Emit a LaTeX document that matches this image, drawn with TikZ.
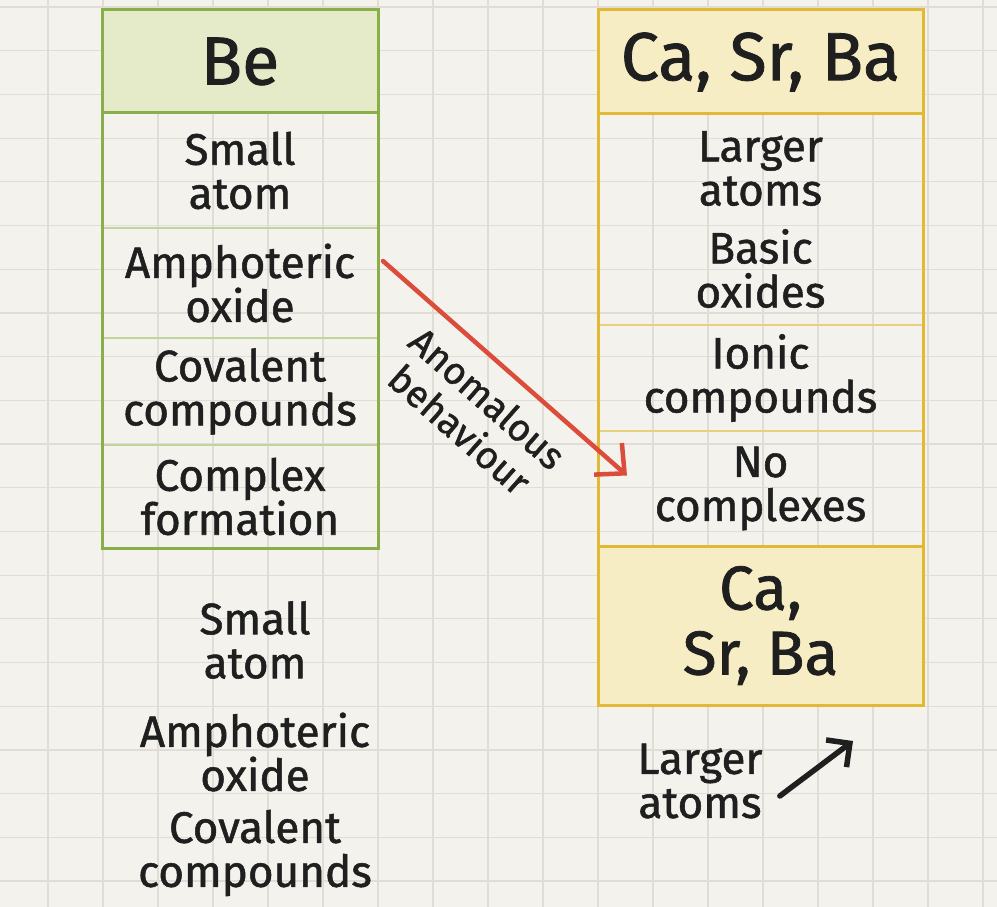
\documentclass[tikz,border=0pt]{standalone}
\usepackage{fontspec}
\setmainfont{Fira Sans}[FakeBold=1.2]
\usepackage{xcolor}
\usetikzlibrary{arrows.meta,positioning,fit}

\definecolor{carta}{HTML}{F4F2ED}
\definecolor{griglia}{HTML}{E0DDD7}
\definecolor{inchiostro}{HTML}{1F1F1F}
\definecolor{verde}{HTML}{8AAE4A}
\definecolor{verdechiaro}{HTML}{E5EBC8}
\definecolor{verdetenue}{HTML}{C2D49E}
\definecolor{giallo}{HTML}{E2B934}
\definecolor{giallochiaro}{HTML}{F7EDC4}
\definecolor{giallotenue}{HTML}{E9D07C}
\definecolor{rosso}{HTML}{DC4C3A}

\begin{document}
\begin{tikzpicture}[x=1pt, y=-1pt, thick, text=inchiostro]
    % Stili
    \tikzstyle{cella}=[rectangle, inner sep=0pt, outer sep=0pt, align=center, font=\fontsize{44}{44}\selectfont]
    \tikzstyle{cellaverde}=[cella, minimum width=276pt]
    \tikzstyle{cellagialla}=[cella, minimum width=325pt]
    \tikzstyle{testata}=[font=\fontsize{68}{70}\selectfont]
    \tikzstyle{bordoverde}=[draw=verde, line width=3pt]
    \tikzstyle{bordogiallo}=[draw=giallo, line width=3pt]
    \tikzstyle{divverde}=[draw=verdetenue, line width=1.6pt]
    \tikzstyle{divgiallo}=[draw=giallotenue, line width=1.6pt]
    \tikzstyle{testo}=[align=center, inner sep=0pt, font=\fontsize{44}{44}\selectfont]
    \tikzstyle{frecciarossa}=[-{Straight Barb[length=22pt, width=42pt]}, draw=rosso, line width=4.5pt, line cap=round, line join=round]
    \tikzstyle{freccianera}=[-{Straight Barb[length=17pt, width=34pt]}, draw=inchiostro, line width=5.5pt, line cap=round, line join=round]

    % Foglio a quadretti
    \fill[carta] (0,0) rectangle (997,907);
    \useasboundingbox (0,0) rectangle (997,907);
    \foreach \k in {0,...,20}
        \draw[griglia, line width=1.2pt] (0,{7+43.7*\k}) -- (997,{7+43.7*\k});
    \foreach \k in {0,...,17}
        \draw[griglia, line width=1.2pt] ({48+55*\k},0) -- ({48+55*\k},907);

    % Colonna Be
    \node (behead) [cellaverde, testata, minimum height=103pt, fill=verdechiaro, bordoverde] at (240,61.5) {Be};
    \node (smallcell) [cellaverde, minimum height=115pt, below=0pt of behead] {Small\\atom};
    \node (amphcell) [cellaverde, minimum height=110pt, below=0pt of smallcell] {Amphoteric\\oxide};
    \node (covcell) [cellaverde, minimum height=107pt, below=0pt of amphcell] {Covalent\\compounds};
    \node (complcell) [cellaverde, minimum height=103pt, below=0pt of covcell] {Complex\\formation};
    \foreach \c in {smallcell, amphcell, covcell}
        \draw[divverde] (\c.south west) -- (\c.south east);
    \node (beframe) [fit=(behead)(complcell), inner sep=0pt, bordoverde] {};

    % Colonna Ca, Sr, Ba
    \node (cahead) [cellagialla, testata, minimum height=104pt, fill=giallochiaro, bordogiallo] at (760.5,62) {Ca, Sr, Ba};
    \node (largecell) [cellagialla, minimum height=211pt, below=0pt of cahead] {Larger\\atoms\\[14pt]Basic\\oxides};
    \node (ioniccell) [cellagialla, minimum height=106pt, below=0pt of largecell] {Ionic\\compounds};
    \node (nocompcell) [cellagialla, minimum height=115pt, below=0pt of ioniccell] {No\\complexes};
    \foreach \c in {largecell, ioniccell}
        \draw[divgiallo] (\c.south west) -- (\c.south east);
    \node (caframe) [fit=(cahead)(nocompcell), inner sep=0pt, bordogiallo] {};
    \node (cafoot) [cellagialla, minimum height=159pt, fill=giallochiaro, bordogiallo, font=\fontsize{62}{65}\selectfont, below=0pt of nocompcell] {Ca,\\Sr, Ba};

    % Collegamenti
    \draw[frecciarossa] ([xshift=5pt,yshift=-33pt]amphcell.north east) -- node[sloped, below=15pt, pos=0.52, align=center, inner sep=2pt, font=\fontsize{38}{42}\selectfont, text=inchiostro] (anomlabel) {Anomalous\\behaviour} ([xshift=29pt,yshift=13pt]nocompcell.west);

    % Annotazioni
    \node (smallfree) [testo] at (255,640) {Small\\atom};
    \node (amphfree) [testo] at (255,752) {Amphoteric\\oxide};
    \node (covfree) [testo] at (255,853) {Covalent\\compounds};
    \node (largefree) [testo] at (700,781) {Larger\\atoms};
    \coordinate (uptip) at (853,741);
    \draw[freccianera] ([xshift=17pt,yshift=-15pt]largefree.east) -- (uptip);
\end{tikzpicture}
\end{document}
